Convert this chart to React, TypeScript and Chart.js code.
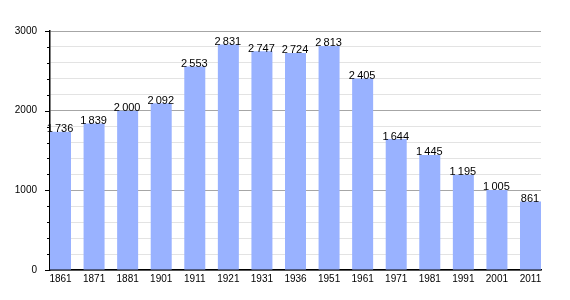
import React, { useEffect, useRef } from "react";
import { Chart, registerables } from "chart.js";

Chart.register(...registerables);

const years = ["1861", "1871", "1881", "1901", "1911", "1921", "1931", "1936", "1951", "1961", "1971", "1981", "1991", "2001", "2011"];
const population = [1736, 1839, 2000, 2092, 2553, 2831, 2747, 2724, 2813, 2405, 1644, 1445, 1195, 1005, 861];
const yMax = 3000;
const yStep = 200;
const majorStep = 1000;

const barFrac = 0.6255;
const xPad = barFrac / 2;

const fmt = (v: number) => {
  const s = String(v);
  return s.length > 3 ? s.slice(0, s.length - 3) + "\u2009" + s.slice(s.length - 3) : s;
};

const labelPlugin = {
  id: "valueLabels",
  afterDatasetsDraw(chart: any) {
    const ctx = chart.ctx;
    const meta = chart.getDatasetMeta(0);
    ctx.save();
    ctx.font = "11px 'Liberation Sans', Arial, sans-serif";
    ctx.fillStyle = "#000";
    ctx.textAlign = "center";
    ctx.textBaseline = "alphabetic";
    meta.data.forEach((bar: any, i: number) => {
      ctx.fillText(fmt(population[i]), bar.x - 0.5, bar.y + 0.5);
    });
    ctx.restore();
  },
};

const tickPlugin = {
  id: "axisTicks",
  afterDraw(chart: any) {
    const ctx = chart.ctx;
    const y = chart.scales.y;
    const left = chart.chartArea.left;
    ctx.save();
    ctx.strokeStyle = "#000";
    ctx.lineWidth = 1;
    for (let v = 0; v <= yMax; v += yStep) {
      const py = Math.round(y.getPixelForValue(v)) + 0.5;
      const len = v % majorStep === 0 ? 5 : 3;
      ctx.beginPath();
      ctx.moveTo(left - len, py);
      ctx.lineTo(left, py);
      ctx.stroke();
    }
    ctx.restore();
  },
};

export default function App() {
  const ref = useRef<HTMLCanvasElement>(null);
  useEffect(() => {
    if (!ref.current) return;
    const chart = new Chart(ref.current, {
      type: "bar",
      data: {
        datasets: [
          {
            data: population.map((v, i) => ({ x: i, y: v })),
            backgroundColor: "#99b2ff",
            borderWidth: 0,
            barPercentage: barFrac,
            categoryPercentage: 1,
          },
        ],
      },
      options: {
        animation: false,
        responsive: false,
        maintainAspectRatio: false,
        layout: { padding: { top: 31, right: 29, left: 0, bottom: 0 } },
        plugins: { legend: { display: false }, tooltip: { enabled: false } },
        scales: {
          x: {
            type: "linear",
            min: -xPad,
            max: years.length - 1 + xPad,
            offset: false,
            grid: { display: true, color: "rgba(0,0,0,0)", drawTicks: false },
            border: { display: true, color: "#000", width: 1.5 },
            ticks: {
              stepSize: 1,
              includeBounds: false,
              font: { size: 10, family: "'Liberation Sans', Arial, sans-serif" },
              color: "#000",
              padding: 3,
              maxRotation: 0,
              autoSkip: false,
              callback: (v: any) => {
                const n = Number(v);
                return Number.isInteger(n) && n >= 0 && n < years.length ? years[n] : "";
              },
            },
            afterFit: (s: any) => {
              s.height = 30;
            },
          },
          y: {
            min: 0,
            max: yMax,
            grid: {
              drawTicks: false,
              color: (c: any) => (c.tick && c.tick.value % majorStep === 0 ? "#a6a6a6" : "#e3e3e3"),
              lineWidth: 1,
            },
            border: { display: true, color: "#000", width: 1.5 },
            ticks: {
              stepSize: yStep,
              autoSkip: false,
              font: { size: 10, family: "'Liberation Sans', Arial, sans-serif" },
              color: "#000",
              padding: 13,
              callback: (v: any) => (Number(v) % majorStep === 0 ? String(v) : ""),
            },
            afterFit: (s: any) => {
              s.width = 50;
            },
          },
        },
      },
      plugins: [labelPlugin, tickPlugin],
    });
    return () => chart.destroy();
  }, []);
  return (
    <div style={{ position: "fixed", left: 0, top: 0, width: 570, height: 300, background: "#fff" }}>
      <canvas ref={ref} width={570} height={300} style={{ width: 570, height: 300 }} />
    </div>
  );
}
